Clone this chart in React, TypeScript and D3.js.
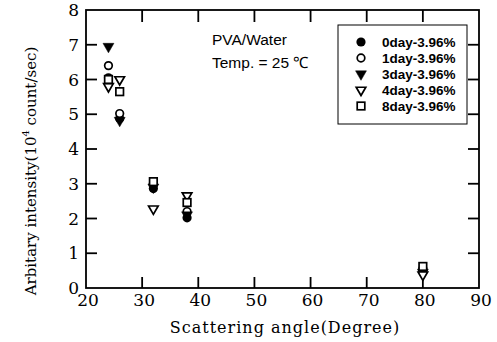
import React from "react";
import * as d3 from "d3";

// Scattering angles (degrees) at which each sample was measured
const angles = [24, 26, 32, 38, 80];

// Intensity (10^4 count/sec) per sample age
const day0 = [6.05, 4.88, 2.86, 2.02, 0.5];
const day1 = [6.4, 5.02, 3.0, 2.2, 0.55];
const day3 = [6.95, 4.82, 2.9, 2.1, 0.45];
const day4 = [5.8, 6.0, 2.28, 2.66, 0.38];
const day8 = [6.0, 5.65, 3.06, 2.46, 0.62];

const seriesNames = ["0day-3.96%", "1day-3.96%", "3day-3.96%", "4day-3.96%", "8day-3.96%"];
const seriesValues = [day0, day1, day3, day4, day8];
const seriesShapes = ["circleFilled", "circleOpen", "triDownFilled", "triDownOpen", "squareOpen"];

const xTicks = [20, 30, 40, 50, 60, 70, 80, 90];
const yTicks = [0, 1, 2, 3, 4, 5, 6, 7, 8];

const W = 497;
const H = 342;
const x = d3.scaleLinear().domain([20, 90]).range([86, 479]);
const y = d3.scaleLinear().domain([0, 8]).range([288, 10]);

function Marker({ shape, cx, cy }: { shape: string; cx: number; cy: number }) {
  const sw = 1.7;
  if (shape === "circleFilled") return <circle cx={cx} cy={cy} r={4.6} fill="#000" />;
  if (shape === "circleOpen")
    return <circle cx={cx} cy={cy} r={3.8} fill="#fff" stroke="#000" strokeWidth={sw} />;
  if (shape === "triDownFilled" || shape === "triDownOpen") {
    const filled = shape === "triDownFilled";
    const tri = d3.symbol().type(d3.symbolTriangle).size(filled ? 52 : 40)();
    return (
      <path
        d={tri as string}
        transform={`translate(${cx},${cy}) rotate(180)`}
        fill={filled ? "#000" : "#fff"}
        stroke="#000"
        strokeWidth={filled ? 0.5 : sw}
      />
    );
  }
  return <rect x={cx - 3.8} y={cy - 3.8} width={7.6} height={7.6} fill="#fff" stroke="#000" strokeWidth={sw} />;
}

export default function App() {
  const x0 = x(20);
  const x1 = x(90);
  const y0 = y(0);
  const y1 = y(8);
  const tickLen = 11;
  const xInner = xTicks.slice(1, -1);
  const yInner = yTicks.slice(1, -1);

  return (
    <svg width={W} height={H} style={{ position: "absolute", left: 0, top: 0, background: "#fff" }}>
      <rect width={W} height={H} fill="#fff" />
      {/* frame */}
      <rect x={x0} y={y1} width={x1 - x0} height={y0 - y1} fill="none" stroke="#000" strokeWidth={1.8} />
      {/* inward ticks on all four sides */}
      <g stroke="#000" strokeWidth={1.8}>
        {xInner.map((t) => (
          <line key={"xb" + t} x1={x(t)} x2={x(t)} y1={y0} y2={y0 - tickLen} />
        ))}
        {xInner.map((t) => (
          <line key={"xt" + t} x1={x(t)} x2={x(t)} y1={y1} y2={y1 + tickLen + 1} />
        ))}
        {yInner.map((t) => (
          <line key={"yl" + t} x1={x0} x2={x0 + tickLen} y1={y(t)} y2={y(t)} />
        ))}
        {yInner.map((t) => (
          <line key={"yr" + t} x1={x1} x2={x1 - tickLen} y1={y(t)} y2={y(t)} />
        ))}
      </g>
      {/* tick labels */}
      <g fontFamily="'DejaVu Serif', serif" fontSize={17} fill="#000">
        {xTicks.map((t) => (
          <text key={"xl" + t} x={x(t) + 2} y={y0 + 18} textAnchor="middle">
            {t}
          </text>
        ))}
        {yTicks.map((t) => (
          <text key={"yl" + t} x={x0 - 7} y={y(t) + 6} textAnchor="end">
            {t}
          </text>
        ))}
      </g>
      {/* axis titles */}
      <text
        x={285}
        y={333}
        textAnchor="middle"
        fontFamily="'DejaVu Serif', serif"
        fontSize={16}
        letterSpacing={1}
        fill="#000"
      >
        Scattering angle(Degree)
      </text>
      <text
        transform={`translate(36,171) rotate(-90)`}
        textAnchor="middle"
        fontFamily="'DejaVu Serif', serif"
        fontSize={15}
        fill="#000"
      >
        Arbitary intensity(10
        <tspan dy={-7} fontSize={10}>4</tspan>
        <tspan dy={7}> count/sec)</tspan>
      </text>
      {/* annotation */}
      <g fontFamily="'Liberation Sans', Arial, sans-serif" fontSize={15.5} fill="#000">
        <text x={212} y={45}>PVA/Water</text>
        <text x={212} y={68}>Temp. = 25 ℃</text>
      </g>
      {/* data */}
      {seriesValues.map((vals, si) =>
        vals.map((v, i) => (
          <Marker key={si + "-" + i} shape={seriesShapes[si]} cx={x(angles[i])} cy={y(v)} />
        ))
      )}
      {/* legend */}
      <rect x={338} y={25} width={129} height={99} fill="#fff" stroke="#000" strokeWidth={1} />
      {seriesNames.map((n, i) => (
        <g key={"lg" + i}>
          <Marker shape={seriesShapes[i]} cx={361} cy={42 + i * 16} />
          <text
            x={382}
            y={42 + i * 16 + 5}
            fontFamily="'Liberation Sans', Arial, sans-serif"
            fontWeight="bold"
            fontSize={13.5}
            fill="#000"
          >
            {n}
          </text>
        </g>
      ))}
    </svg>
  );
}
